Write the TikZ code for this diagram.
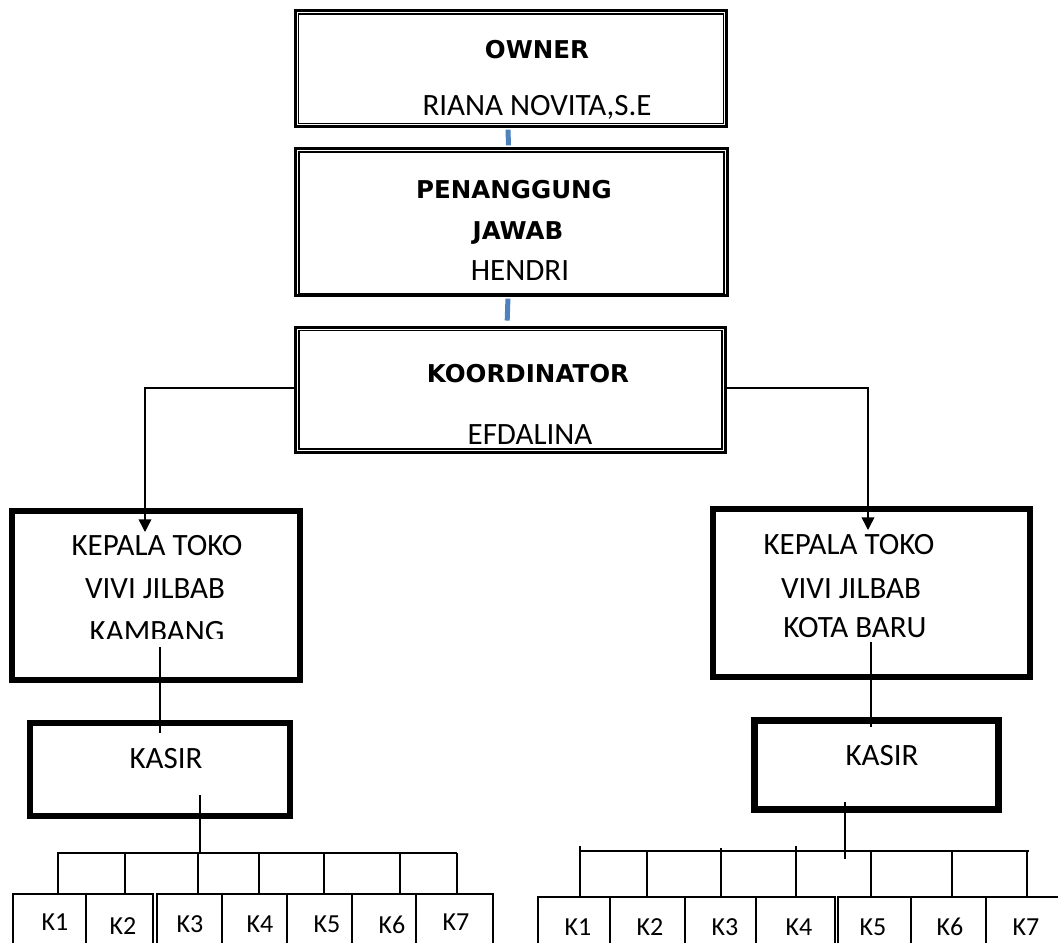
\documentclass[tikz,border=0pt]{standalone}
\usepackage{fontspec}
\setmainfont{Carlito}
\newfontfamily\bfont{DejaVu Sans}
\usetikzlibrary{fit,calc,arrows.meta}
\definecolor{wordblue}{RGB}{79,129,189}
\tikzset{
  regtxt/.style={font=\fontsize{23.25}{28}\selectfont, inner sep=0, anchor=base},
  boldtxt/.style={font=\bfont\bfseries\fontsize{18.4}{22}\selectfont, inner sep=0, anchor=base},
  ktxt/.style={font=\fontsize{19.5}{23}\selectfont, inner sep=0, anchor=base},
  dblouter/.style={draw, line width=2.25pt, inner sep=0},
  dblinner/.style={line width=1.1pt},
  thickbox/.style={draw, line width=4.6pt, inner sep=0},
  kbox/.style={draw, line width=0.95pt, inner sep=0},
  conn/.style={line width=1.1pt},
  blueconn/.style={line width=3.75pt, draw=wordblue},
  arr/.style={conn, -{Triangle[width=9.5pt,length=9.5pt]}},
}
\begin{document}
\begin{tikzpicture}[x=0.75pt,y=-0.75pt]
\useasboundingbox (0,0) rectangle (1058,943);
\clip (0,0) rectangle (1058,943);

% ---- top double-bordered boxes
\node[dblouter, fit={(295.5,10.5) (726.5,126.5)}] (owner) {};
\draw[dblinner] ($(owner.north west)+(4.5,5)$) rectangle ($(owner.south east)+(-4.5,-4.5)$);
\node[boldtxt] (ownerT) at (537,58) {OWNER};
\node[regtxt] (ownerN) at (537,115) {RIANA NOVITA,S.E};

\node[dblouter, fit={(295.5,148.5) (727.5,295.5)}] (pen) {};
\draw[dblinner] ($(pen.north west)+(5,5)$) rectangle ($(pen.south east)+(-5,-3.5)$);
\node[boldtxt] (penT1) at (514,198) {PENANGGUNG};
\node[boldtxt] (penT2) at (518,239) {JAWAB};
\node[regtxt] (penN) at (520,280) {HENDRI};

\node[dblouter, fit={(295.5,327.5) (725.5,452.5)}] (koord) {};
\draw[dblinner] ($(koord.north west)+(5,4.5)$) rectangle ($(koord.south east)+(-5,-5)$);
\node[boldtxt] (koordT) at (528,382) {KOORDINATOR};
\node[regtxt] (koordN) at (530,444) {EFDALINA};

% blue connectors
\draw[blueconn, shorten <=1.2pt, shorten >=1.2pt] ($(owner.south)+(-3,0)$) -- ($(pen.north)+(-3,0)$);
\draw[blueconn, shorten <=1.2pt, shorten >=4.1pt] ($(pen.south)+(-3.5,0)$) -- ($(koord.north)+(-3.5,0)$);

% ---- store heads
\node[thickbox, fit={(12,511) (300,680)}] (kl) {};
\node[regtxt] (klT1) at (157,555) {KEPALA TOKO};
\node[regtxt] (klT2) at (155,598) {VIVI JILBAB};
\begin{scope}
  \clip (0,0) rectangle (1058,638.5);
  \node[regtxt] (klT3) at (157,641) {KAMBANG};
\end{scope}

\node[thickbox, fit={(713,509) (1030,677)}] (kr) {};
\node[regtxt] (krT1) at (849,554) {KEPALA TOKO};
\node[regtxt] (krT2) at (851,598) {VIVI JILBAB};
\node[regtxt] (krT3) at (855,637) {KOTA BARU};

% arrows from coordinator
\coordinate (kla) at (145,532);
\coordinate (kra) at (868,530);
\draw[arr] ($(koord.west)+(0,-2)$) -| (kla);
\draw[arr] ($(koord.east)+(0,-2)$) -| (kra);

% ---- cashiers
\node[thickbox, line width=4.9pt, fit={(30,723) (290,816)}] (kasl) {};
\node[regtxt] (kaslT) at (166,768) {KASIR};
\node[thickbox, line width=5.25pt, fit={(754.5,720.5) (998.5,809.5)}] (kasr) {};
\node[regtxt] (kasrT) at (882,765) {KASIR};

\coordinate (klo) at (160,647);
\coordinate (kasli) at (160,733);
\draw[conn] (klo) -- (kasli);
\coordinate (kro) at (871,642);
\coordinate (kasri) at (871,727);
\draw[conn] (kro) -- (kasri);

% ---- left K boxes
\node[kbox, fit={(13,894) (86,950)}] (lk1) {};
\node[kbox, fit={(86,894) (153,950)}] (lk2) {};
\node[kbox, fit={(157,894) (222,950)}] (lk3) {};
\node[kbox, fit={(222,894) (287,950)}] (lk4) {};
\node[kbox, fit={(287,894) (352,950)}] (lk5) {};
\node[kbox, fit={(352,894) (416,950)}] (lk6) {};
\node[kbox, fit={(416,894) (493,950)}] (lk7) {};
\node[ktxt] (lk1T) at (55,930) {K1};
\node[ktxt] (lk2T) at (123,934) {K2};
\node[ktxt] (lk3T) at (190,932) {K3};
\node[ktxt] (lk4T) at (260,932) {K4};
\node[ktxt] (lk5T) at (327,932) {K5};
\node[ktxt] (lk6T) at (392,933) {K6};
\node[ktxt] (lk7T) at (456,930) {K7};

\coordinate (lks) at (200,795);
\coordinate (lb1) at (58,853);
\coordinate (lb2) at (125,853);
\coordinate (lb3) at (198,853);
\coordinate (lb4) at (259,853);
\coordinate (lb5) at (324,853);
\coordinate (lb6) at (400,853);
\coordinate (lb7) at (457,853);
\draw[conn] (lks) -- (lks |- lb1);
\draw[conn] (lb1) -- (lb7);
\draw[conn] ($(lb1)+(0,-1)$) -- (lb1 |- lk1.north);
\draw[conn] (lb2) -- (lb2 |- lk2.north);
\draw[conn] (lb3) -- (lb3 |- lk3.north);
\draw[conn] (lb4) -- (lb4 |- lk4.north);
\draw[conn] (lb5) -- (lb5 |- lk5.north);
\draw[conn] (lb6) -- (lb6 |- lk6.north);
\draw[conn] (lb7) -- (lb7 |- lk7.north);

% ---- right K boxes
\node[kbox, fit={(538,897) (610,957)}] (rk1) {};
\node[kbox, fit={(610,897) (685,957)}] (rk2) {};
\node[kbox, fit={(685,897) (756,957)}] (rk3) {};
\node[kbox, fit={(756,897) (835,957)}] (rk4) {};
\node[kbox, fit={(838,897) (911,957)}] (rk5) {};
\node[kbox, fit={(911,897) (986,957)}] (rk6) {};
\node[kbox, fit={(986,897) (1075,957)}] (rk7) {};
\node[ktxt] (rk1T) at (578,935) {K1};
\node[ktxt] (rk2T) at (650,935) {K2};
\node[ktxt] (rk3T) at (725,935) {K3};
\node[ktxt] (rk4T) at (799,935) {K4};
\node[ktxt] (rk5T) at (873,935) {K5};
\node[ktxt] (rk6T) at (950,935) {K6};
\node[ktxt] (rk7T) at (1026,935) {K7};

\coordinate (rks) at (845,802);
\coordinate (rke) at (845,859);
\coordinate (rb1) at (580,851);
\coordinate (rb2) at (647,851);
\coordinate (rb3) at (721,851);
\coordinate (rb4) at (796,851);
\coordinate (rb5) at (871,851);
\coordinate (rb6) at (952,851);
\coordinate (rb7) at (1027,851);
\draw[conn] (rks) -- (rke);
\draw[conn] (rb1) -- (1029,851);
\draw[conn] ($(rb1)+(0,-5)$) -- (rb1 |- rk1.north);
\draw[conn] (rb2) -- (rb2 |- rk2.north);
\draw[conn] ($(rb3)+(0,-3)$) -- (rb3 |- rk3.north);
\draw[conn] ($(rb4)+(0,-5)$) -- (rb4 |- rk4.north);
\draw[conn] (rb5) -- (rb5 |- rk5.north);
\draw[conn] (rb6) -- (rb6 |- rk6.north);
\draw[conn] (rb7) -- (rb7 |- rk7.north);
\end{tikzpicture}
\end{document}
